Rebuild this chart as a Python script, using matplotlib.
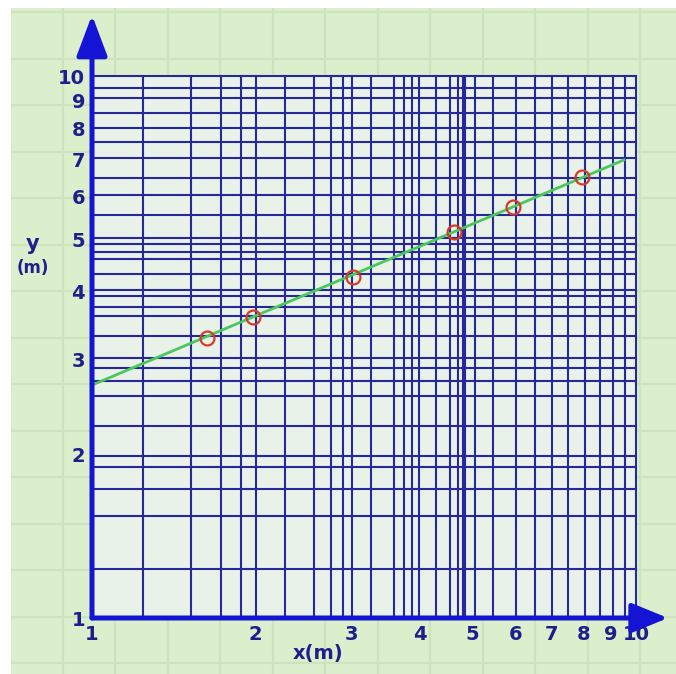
import matplotlib
matplotlib.use("Agg")
import matplotlib.pyplot as plt
import numpy as np

# ---- data ----
x_grid = [1.24, 1.52, 1.73, 1.88, 2.0, 2.26, 2.56, 2.75, 2.89, 3.01, 3.26, 3.59,
          3.74, 3.87, 3.99, 4.28, 4.56, 4.71, 4.81, 4.85, 5.06, 5.45, 6.02, 6.51,
          7.02, 7.51, 8.05, 8.60, 9.08, 9.53, 10.0]
y_grid = [1.23, 1.54, 1.73, 1.90, 1.99, 2.26, 2.57, 2.74, 2.89, 3.02, 3.31, 3.60,
          3.75, 3.92, 4.03, 4.31, 4.60, 4.74, 4.89, 5.03, 5.53, 6.03, 6.49, 7.05,
          7.57, 8.03, 8.54, 9.09, 9.52, 10.0]
tick_values = [1, 2, 3, 4, 5, 6, 7, 8, 9, 10]
tick_labels = ["1", "2", "3", "4", "5", "6", "7", "8", "9", "10"]
points_x = [1.63, 1.98, 3.02, 4.62, 5.95, 7.95]
points_y = [3.29, 3.59, 4.25, 5.16, 5.73, 6.52]
line_x = [1.0, 9.5]
line_y = [2.69, 7.0]

W, H = 676, 674
fig = plt.figure(figsize=(W / 100, H / 100), dpi=100, facecolor="white")

# ---- background graph paper ----
bg = fig.add_axes([11 / W, 0, 1 - 11 / W, (H - 8) / H])
bg.set_xlim(11, W)
bg.set_ylim(H, 8)
bg.axis("off")
bg.add_patch(plt.Rectangle((11, 8), W - 11, H - 8, color="#dcefcd", zorder=0))
for xv in np.arange(10, W, 52.5):
    bg.axvline(xv, color="#cbe4bb", lw=1.6, zorder=1)
for yv in np.arange(12, H, 46.5):
    bg.axhline(yv, color="#cbe4bb", lw=1.6, zorder=1)

# ---- main log-log axes ----
L, R, T, B = 92, 636, 76, 618
ax = fig.add_axes([L / W, (H - B) / H, (R - L) / W, (B - T) / H])
ax.set_xscale("log")
ax.set_yscale("log")
ax.set_xlim(1, 10)
ax.set_ylim(1, 10)
ax.set_facecolor("#e8f2e8")
for s in ax.spines.values():
    s.set_visible(False)

grid_col = "#28289a"
for xv in x_grid:
    ax.axvline(xv, color=grid_col, lw=1.5, zorder=1, clip_on=False)
for yv in y_grid:
    ax.axhline(yv, color=grid_col, lw=1.5, zorder=1, clip_on=False)

ax.plot(line_x, line_y, color="#4cc85a", lw=2.0, zorder=3)
ax.plot(points_x, points_y, linestyle="none", marker="o", markersize=10,
        markerfacecolor="none", markeredgecolor="#d83a2a", markeredgewidth=1.6,
        zorder=4)

# axes with arrows
axis_col = "#1414d4"
ax.annotate("", xy=(0, (B - 15) / (B - T)), xytext=(0, 0), xycoords="axes fraction",
            arrowprops=dict(arrowstyle="-|>,head_length=1.25,head_width=0.47",
                            mutation_scale=20, lw=3.6, color=axis_col,
                            shrinkA=0, shrinkB=0), annotation_clip=False, zorder=6)
ax.annotate("", xy=((668 - L) / (R - L), 0), xytext=(0, 0), xycoords="axes fraction",
            arrowprops=dict(arrowstyle="-|>,head_length=1.1,head_width=0.45",
                            mutation_scale=20, lw=3.6, color=axis_col,
                            shrinkA=0, shrinkB=0), annotation_clip=False, zorder=6)

lab_col = "#1e1e8c"
ax.set_xticks(tick_values)
ax.set_xticklabels(tick_labels)
ax.set_yticks(tick_values)
ax.set_yticklabels(tick_labels)
ax.minorticks_off()
ax.tick_params(axis="both", length=0, labelsize=14, labelcolor=lab_col)
ax.tick_params(axis="x", pad=5)
ax.tick_params(axis="y", pad=5)
for t in ax.get_xticklabels() + ax.get_yticklabels():
    t.set_fontweight("bold")

fig.text(33 / W, 1 - 244 / H, "y", ha="center", va="center", fontsize=15,
         color=lab_col, fontweight="bold")
fig.text(33 / W, 1 - 268 / H, "(m)", ha="center", va="center", fontsize=12,
         color=lab_col, fontweight="bold")
fig.text(318 / W, 1 - 653 / H, "x(m)", ha="center", va="center", fontsize=14,
         color=lab_col, fontweight="bold")

fig.savefig("out.png", dpi=100, facecolor="white")
